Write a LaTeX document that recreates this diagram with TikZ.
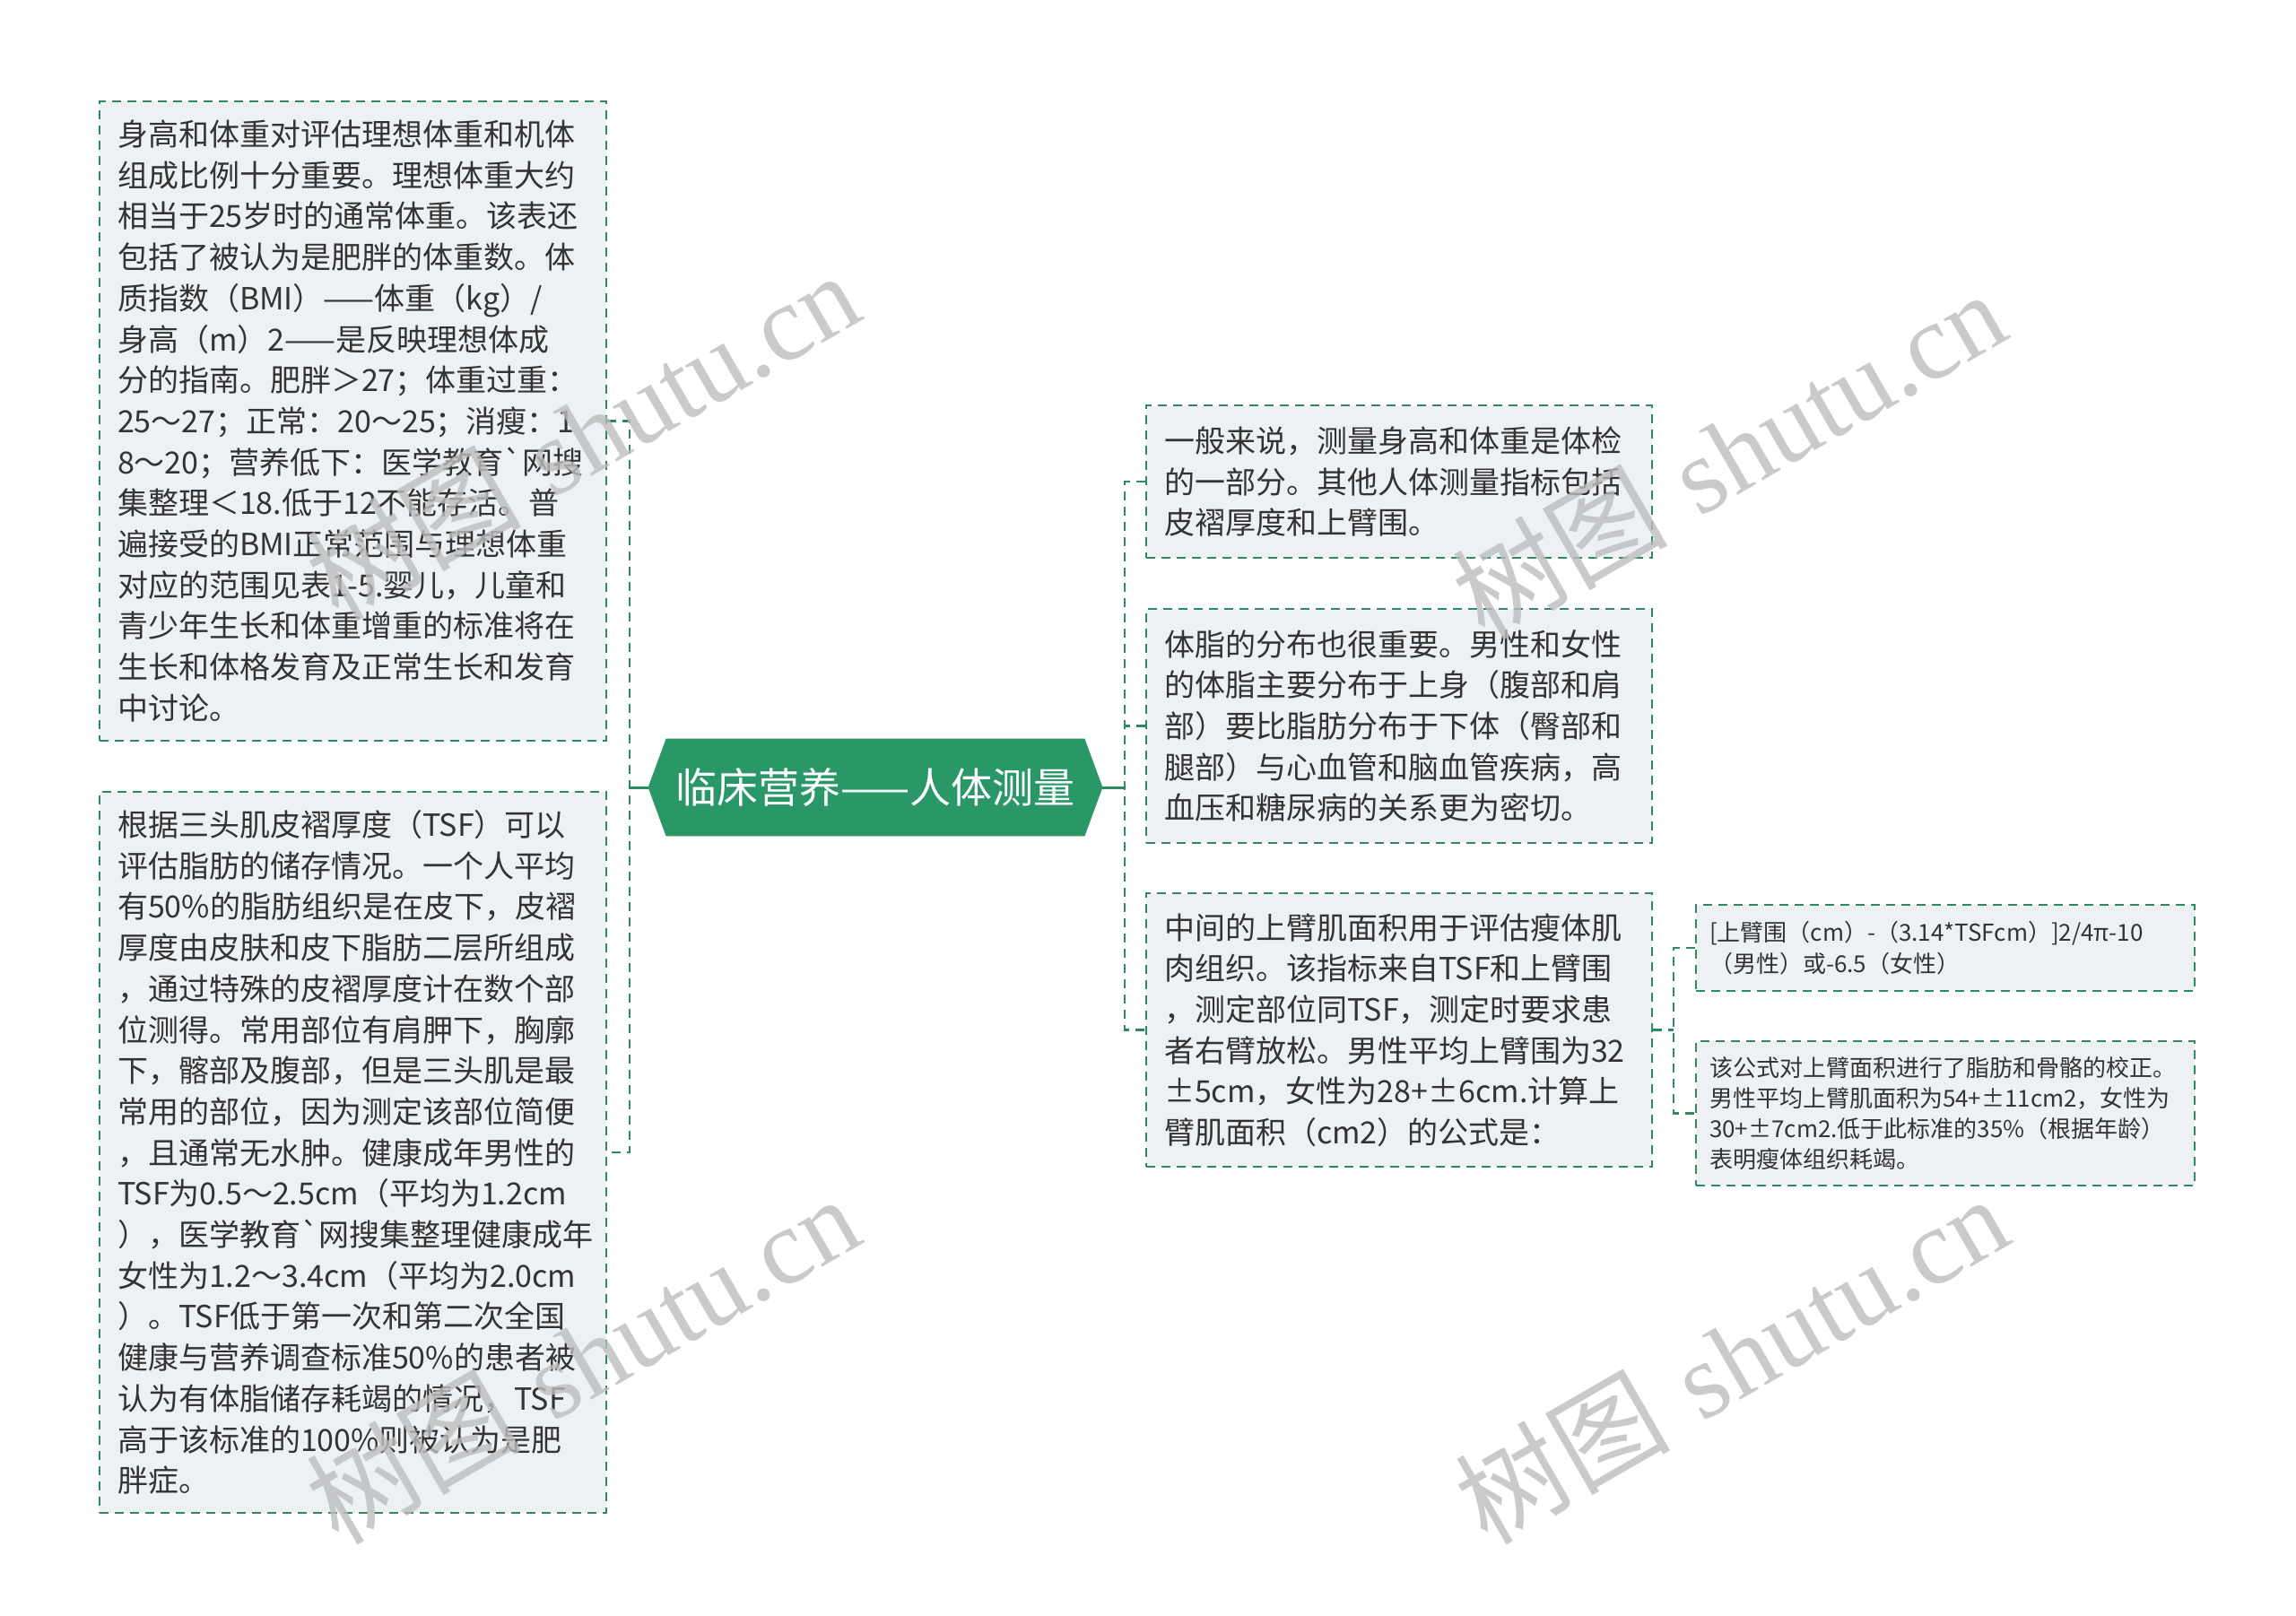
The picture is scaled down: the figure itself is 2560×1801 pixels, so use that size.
\documentclass[tikz,border=0pt]{standalone}
\usepackage{fontspec}
\newfontfamily\bodyfont{Noto Sans CJK SC}
\newfontfamily\wmserif{Liberation Serif}
\newfontfamily\wmcjk{Noto Sans CJK SC}
\usetikzlibrary{backgrounds}
\definecolor{lineg}{HTML}{2E8B5E}
\definecolor{hexg}{HTML}{2A9866}
\definecolor{boxf}{HTML}{EEF1F4}
\definecolor{txt}{HTML}{333333}
\definecolor{wm}{HTML}{BDBDBD}
\tikzset{
  tbox/.style={draw=lineg, fill=boxf, line width=1.2pt, dash pattern=on 5pt off 3.5pt,
    text=txt, align=left, inner xsep=10pt, inner ysep=0pt, anchor=center,
    font=\bodyfont\fontsize{17pt}{22.85pt}\selectfont},
  sbox/.style={tbox, inner xsep=7.5pt, font=\bodyfont\fontsize{13pt}{17.1pt}\selectfont},
  conn/.style={draw=lineg, line width=1.3pt, dash pattern=on 5pt off 3.5pt},
  sconn/.style={draw=lineg, line width=1.5pt},
  wmark/.style={text=wm, opacity=0.8, rotate=30, inner sep=0pt, font=\fontsize{60pt}{60pt}\selectfont},
  rootnode/.style={inner sep=0pt, minimum width=253pt, minimum height=54pt, text=white,
    font=\bodyfont\fontsize{23pt}{28pt}\selectfont}
}
\begin{document}
\begin{tikzpicture}[x=0.5pt,y=-0.5pt]
\useasboundingbox (0,0) rectangle (2560,1801);

% root
\node[rootnode] (root) at (976,878) {临床营养——人体测量};
\begin{pgfonlayer}{background}
\fill[white] (0,0) rectangle (2560,1801);
\fill[hexg] (root.west) -- ([xshift=10pt]root.north west) -- ([xshift=-10pt]root.north east)
  -- (root.east) -- ([xshift=-10pt]root.south east) -- ([xshift=10pt]root.south west) -- cycle;
\end{pgfonlayer}

% left boxes
\node[tbox, text width=262.5pt, minimum height=356.5pt] (b1) at (393.5,469.5) {身高和体重对评估理想体重和机体\\
组成比例十分重要。理想体重大约\\
相当于25岁时的通常体重。该表还\\
包括了被认为是肥胖的体重数。体\\
质指数（BMI）——体重（kg）/\\
身高（m）2——是反映理想体成\\
分的指南。肥胖＞27；体重过重：\\
25～27；正常：20～25；消瘦：1\\
8～20；营养低下：医学教育`网搜\\
集整理＜18.低于12不能存活。普\\
遍接受的BMI正常范围与理想体重\\
对应的范围见表1-5.婴儿，儿童和\\
青少年生长和体重增重的标准将在\\
生长和体格发育及正常生长和发育\\
中讨论。};

\node[tbox, text width=262.5pt, minimum height=402pt] (b2) at (393.5,1285) {根据三头肌皮褶厚度（TSF）可以\\
评估脂肪的储存情况。一个人平均\\
有50\%的脂肪组织是在皮下，皮褶\\
厚度由皮肤和皮下脂肪二层所组成\\
，通过特殊的皮褶厚度计在数个部\\
位测得。常用部位有肩胛下，胸廓\\
下，髂部及腹部，但是三头肌是最\\
常用的部位，因为测定该部位简便\\
，且通常无水肿。健康成年男性的\\
TSF为0.5～2.5cm（平均为1.2cm\\
），医学教育`网搜集整理健康成年\\
女性为1.2～3.4cm（平均为2.0cm\\
）。TSF低于第一次和第二次全国\\
健康与营养调查标准50\%的患者被\\
认为有体脂储存耗竭的情况，TSF\\
高于该标准的100\%则被认为是肥\\
胖症。};

% right boxes
\node[tbox, text width=262pt, minimum height=85pt] (ba) at (1560,537) {一般来说，测量身高和体重是体检\\
的一部分。其他人体测量指标包括\\
皮褶厚度和上臂围。};

\node[tbox, text width=262pt, minimum height=130.5pt] (bb) at (1560,809.5) {体脂的分布也很重要。男性和女性\\
的体脂主要分布于上身（腹部和肩\\
部）要比脂肪分布于下体（臀部和\\
腿部）与心血管和脑血管疾病，高\\
血压和糖尿病的关系更为密切。};

\node[tbox, text width=262pt, minimum height=152.5pt] (bc) at (1560,1148.5) {中间的上臂肌面积用于评估瘦体肌\\
肉组织。该指标来自TSF和上臂围\\
，测定部位同TSF，测定时要求患\\
者右臂放松。男性平均上臂围为32\\
±5cm，女性为28+±6cm.计算上\\
臂肌面积（cm2）的公式是：};

\node[sbox, text width=263pt, minimum height=48pt] (bd) at (2169,1057) {[上臂围（cm）-（3.14*TSFcm）]2/4π-10\\
（男性）或-6.5（女性）};

\node[sbox, text width=263pt, minimum height=80.5pt] (be) at (2169,1241.5) {该公式对上臂面积进行了脂肪和骨骼的校正。\\
男性平均上臂肌面积为54+±11cm2，女性为\\
30+±7cm2.低于此标准的35\%（根据年龄）\\
表明瘦体组织耗竭。};

% connectors
\coordinate (sl) at (702,878);
\coordinate (sr) at (1254,878);
\coordinate (s2) at (1866,1148.5);
\draw[sconn] (root.west) -- (sl);
\draw[conn] (b1.east) -| (sl) |- (b2.east);
\draw[sconn] (root.east) -- (sr);
\draw[conn] (ba.west) -| (sr) |- (bc.west);
\draw[conn] (bb.west) -- (bb.west -| sr);
\draw[conn] (bc.east) -- (s2);
\draw[conn] (bd.west) -| (s2) |- (be.west);

% watermarks
\node[wmark] (wm1) at (649,485) {{\wmcjk 树图} {\wmserif shutu.cn}};
\node[wmark] (wm2) at (1927,506) {{\wmcjk 树图} {\wmserif shutu.cn}};
\node[wmark] (wm3) at (649,1515) {{\wmcjk 树图} {\wmserif shutu.cn}};
\node[wmark] (wm4) at (1930,1515) {{\wmcjk 树图} {\wmserif shutu.cn}};
\end{tikzpicture}
\end{document}
